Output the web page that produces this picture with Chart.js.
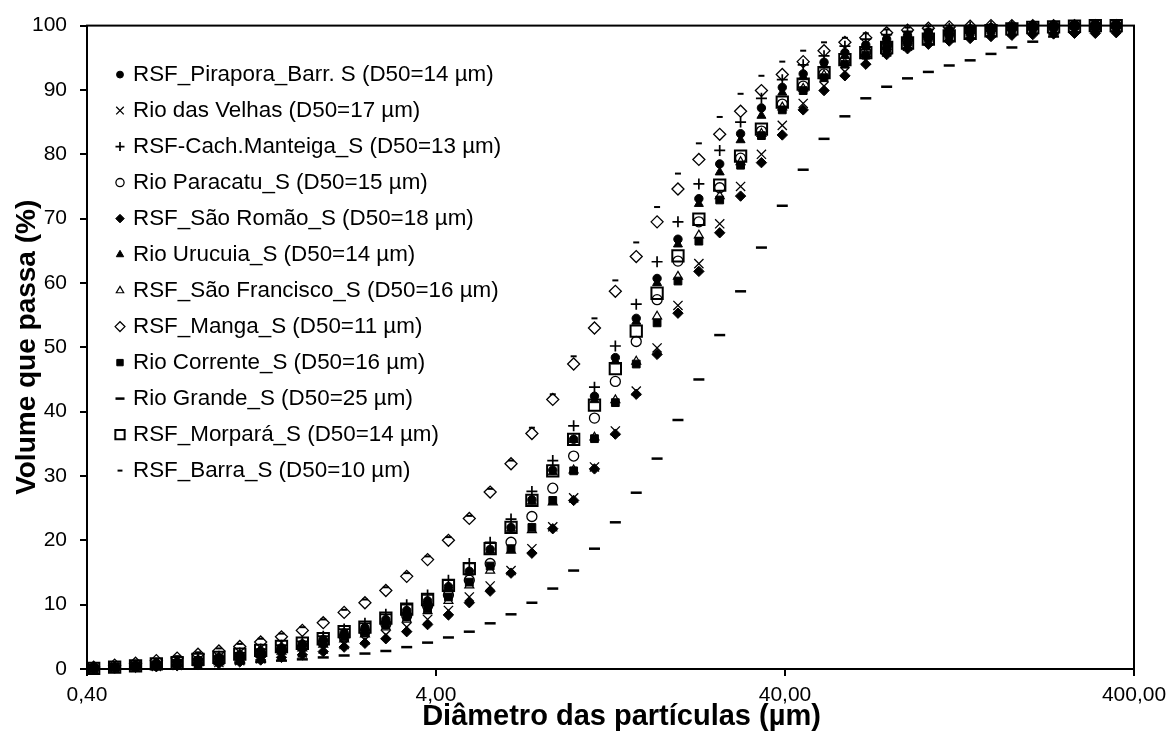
<!DOCTYPE html>
<html lang="pt">
<head>
<meta charset="utf-8">
<title>Distribuição granulométrica dos sedimentos</title>
<script src="https://cdn.jsdelivr.net/npm/chart.js@4/dist/chart.umd.min.js"></script>
<style>
  html, body { margin: 0; padding: 0; background: #ffffff; }
  #wrap { width: 1169px; height: 740px; position: relative; }
</style>
</head>
<body>
<div id="wrap"><canvas id="grafico" width="1169" height="740"></canvas></div>
<script>
// Diâmetros das classes granulométricas (µm)
const diametros = [0.418, 0.480, 0.551, 0.632, 0.725, 0.832, 0.955, 1.096, 1.258, 1.443,
  1.656, 1.901, 2.182, 2.503, 2.873, 3.297, 3.784, 4.342, 4.983, 5.718,
  6.562, 7.531, 8.642, 9.919, 11.38, 13.06, 14.99, 17.20, 19.74, 22.66,
  26.00, 29.84, 34.24, 39.29, 45.10, 51.75, 59.39, 68.16, 78.22, 89.77,
  103.0, 118.2, 135.7, 155.7, 178.7, 205.1, 235.3, 270.1, 309.9, 355.7];

// Volume acumulado que passa (%) por amostra
const pirapora = [0.1, 0.3, 0.5, 0.7, 1.0, 1.4, 1.8, 2.2, 2.8, 3.3,
  3.9, 4.6, 5.6, 6.4, 7.7, 9.1, 10.6, 12.8, 15.2, 18.6,
  22.0, 26.3, 30.9, 35.7, 42.4, 48.4, 54.5, 60.7, 66.8, 73.1,
  78.5, 83.2, 87.2, 90.4, 92.5, 94.3, 95.8, 97.0, 97.9, 98.5,
  99.0, 99.3, 99.5, 99.7, 99.8, 99.9, 100, 100, 100, 100];
const velhas = [0.1, 0.2, 0.3, 0.4, 0.55, 0.75, 1.0, 1.3, 1.6, 2.0,
  2.5, 3.1, 3.8, 4.5, 5.3, 6.5, 7.7, 9.1, 11.2, 12.9,
  15.3, 18.7, 22.1, 26.6, 31.4, 37.0, 43.2, 49.9, 56.5, 63.0,
  69.2, 75.0, 80.0, 84.5, 87.9, 90.6, 92.8, 94.6, 95.9, 96.8,
  97.6, 98.2, 98.6, 98.9, 99.1, 99.3, 99.4, 99.5, 99.6, 99.7];
const cachManteiga = [0.2, 0.4, 0.6, 0.9, 1.2, 1.6, 2.0, 2.5, 3.1, 3.7,
  4.3, 5.1, 6.2, 7.1, 8.5, 10.0, 11.5, 13.8, 16.4, 19.7,
  23.3, 27.6, 32.4, 37.8, 43.8, 50.2, 56.7, 63.3, 69.5, 75.4,
  80.6, 85.0, 88.7, 91.6, 93.9, 95.3, 96.8, 97.9, 98.6, 99.1,
  99.4, 99.6, 99.8, 99.9, 100, 100, 100, 100, 100, 100];
const paracatu = [0.1, 0.2, 0.4, 0.6, 0.9, 1.2, 1.5, 1.9, 2.4, 2.9,
  3.4, 4.1, 5.0, 5.8, 7.0, 8.3, 9.8, 11.5, 13.8, 16.4,
  19.7, 23.7, 28.1, 33.1, 39.0, 44.7, 50.9, 57.4, 63.4, 69.5,
  74.8, 79.4, 83.6, 87.8, 90.6, 92.5, 94.5, 95.9, 97.0, 97.8,
  98.4, 98.9, 99.2, 99.5, 99.7, 99.8, 99.9, 100, 100, 100];
const saoRomao = [0.1, 0.15, 0.25, 0.35, 0.5, 0.65, 0.85, 1.1, 1.4, 1.8,
  2.2, 2.7, 3.4, 4.0, 4.7, 5.8, 6.9, 8.4, 10.3, 12.1,
  14.9, 18.0, 21.8, 26.2, 31.1, 36.5, 42.7, 48.9, 55.3, 61.8,
  67.8, 73.5, 78.7, 83.0, 86.9, 89.9, 92.2, 94.0, 95.5, 96.4,
  97.1, 97.6, 98.0, 98.3, 98.5, 98.6, 98.7, 98.8, 98.8, 98.9];
const urucuia = [0.1, 0.3, 0.5, 0.7, 1.0, 1.4, 1.8, 2.2, 2.7, 3.3,
  3.9, 4.6, 5.5, 6.3, 7.6, 9.0, 10.5, 12.7, 15.0, 18.4,
  21.8, 26.0, 30.6, 35.6, 41.8, 47.8, 54.0, 60.0, 66.0, 72.3,
  77.2, 82.2, 86.0, 89.6, 92.0, 93.8, 95.3, 96.6, 97.5, 98.2,
  98.7, 99.1, 99.4, 99.6, 99.8, 99.9, 100, 100, 100, 100];
const saoFrancisco = [0.1, 0.2, 0.4, 0.6, 0.8, 1.1, 1.4, 1.8, 2.2, 2.7,
  3.2, 3.8, 4.6, 5.4, 6.5, 7.7, 9.0, 10.6, 13.0, 15.3,
  18.4, 21.6, 25.9, 30.9, 36.0, 41.8, 47.8, 54.8, 61.0, 67.4,
  73.5, 78.8, 83.2, 87.3, 90.2, 92.3, 94.2, 95.6, 96.7, 97.6,
  98.3, 98.8, 99.2, 99.5, 99.7, 99.8, 99.9, 100, 100, 100];
const manga = [0.3, 0.6, 0.9, 1.3, 1.7, 2.3, 2.8, 3.5, 4.2, 5.0,
  6.0, 7.2, 8.8, 10.3, 12.2, 14.4, 17.0, 20.0, 23.4, 27.5,
  31.9, 36.6, 41.9, 47.4, 53.0, 58.7, 64.1, 69.5, 74.6, 79.2,
  83.1, 86.7, 89.9, 92.4, 94.4, 96.1, 97.4, 98.1, 98.9, 99.3,
  99.6, 99.8, 99.9, 100, 100, 100, 100, 100, 100, 100];
const corrente = [0.1, 0.3, 0.5, 0.7, 0.9, 1.3, 1.6, 2.0, 2.5, 3.0,
  3.5, 4.1, 5.0, 5.8, 6.9, 8.1, 9.4, 11.2, 13.5, 16.0,
  18.7, 22.0, 26.2, 30.8, 35.8, 41.4, 47.4, 53.8, 60.3, 66.5,
  72.9, 78.3, 82.9, 86.9, 89.9, 91.9, 94.0, 95.4, 96.5, 97.4,
  98.1, 98.6, 99.0, 99.3, 99.5, 99.7, 99.8, 99.9, 100, 100];
const grande = [0.1, 0.15, 0.25, 0.35, 0.45, 0.6, 0.75, 0.9, 1.1, 1.3,
  1.5, 1.8, 2.1, 2.4, 2.8, 3.4, 4.1, 4.9, 5.8, 7.1,
  8.5, 10.3, 12.5, 15.3, 18.7, 22.8, 27.4, 32.7, 38.7, 45.0,
  51.9, 58.7, 65.5, 72.0, 77.6, 82.4, 85.9, 88.7, 90.5, 91.8,
  92.8, 93.8, 94.6, 95.6, 96.6, 97.5, 98.3, 98.9, 99.4, 99.8];
const morpara = [0.1, 0.3, 0.5, 0.8, 1.0, 1.5, 1.8, 2.3, 2.9, 3.5,
  4.0, 4.7, 5.8, 6.5, 7.9, 9.3, 10.8, 13.0, 15.6, 18.7,
  22.0, 26.2, 30.8, 35.7, 41.0, 46.7, 52.5, 58.4, 64.2, 69.9,
  75.2, 79.7, 83.9, 88.1, 90.9, 92.7, 94.7, 95.8, 96.6, 97.3,
  97.9, 98.4, 98.8, 99.2, 99.5, 99.7, 99.8, 99.9, 100, 100];
const barra = [0.4, 0.7, 1.0, 1.5, 2.0, 2.6, 3.2, 3.9, 4.7, 5.5,
  6.5, 7.7, 9.2, 10.8, 12.7, 14.9, 17.5, 20.5, 23.8, 28.0,
  32.4, 37.5, 42.7, 48.6, 54.5, 60.4, 66.3, 71.8, 77.0, 81.7,
  85.8, 89.4, 92.2, 94.4, 96.1, 97.4, 98.1, 98.8, 99.4, 99.7,
  99.9, 100, 100, 100, 100, 100, 100, 100, 100, 100];

// Rótulos dos eixos
const xTickValues = [0.4, 4, 40, 400];
const xTickLabels = ['0,40', '4,00', '40,00', '400,00'];
const yTickLabels = ['0', '10', '20', '30', '40', '50', '60', '70', '80', '90', '100'];
const tituloX = 'Diâmetro das partículas (µm)';
const tituloY = 'Volume que passa (%)';

const FONT = "'Liberation Sans', Arial, Helvetica, sans-serif";
const PRETO = '#000000';
const VAZIO = 'rgba(0,0,0,0)';

// Amostras: nome, valores e marcador
const amostras = [
  { nome: 'RSF_Pirapora_Barr. S (D50=14 µm)', valores: pirapora, marca: 'circle', raio: 4.2, cheio: true, traco: 1 },
  { nome: 'Rio das Velhas (D50=17 µm)', valores: velhas, marca: 'crossRot', raio: 6.5, cheio: false, traco: 1.3 },
  { nome: 'RSF-Cach.Manteiga_S (D50=13 µm)', valores: cachManteiga, marca: 'cross', raio: 5.5, cheio: false, traco: 1.7 },
  { nome: 'Rio Paracatu_S (D50=15 µm)', valores: paracatu, marca: 'circle', raio: 5, cheio: false, traco: 1.3 },
  { nome: 'RSF_São Romão_S (D50=18 µm)', valores: saoRomao, marca: 'rectRot', raio: 5.2, cheio: true, traco: 1 },
  { nome: 'Rio Urucuia_S (D50=14 µm)', valores: urucuia, marca: 'triangle', raio: 5.2, cheio: true, traco: 1 },
  { nome: 'RSF_São Francisco_S (D50=16 µm)', valores: saoFrancisco, marca: 'triangle', raio: 5.2, cheio: false, traco: 1.2 },
  { nome: 'RSF_Manga_S (D50=11 µm)', valores: manga, marca: 'rectRot', raio: 6, cheio: false, traco: 1.3 },
  { nome: 'Rio Corrente_S (D50=16 µm)', valores: corrente, marca: 'rect', raio: 5.5, cheio: true, traco: 1 },
  { nome: 'Rio Grande_S (D50=25 µm)', valores: grande, marca: 'line', raio: 5.5, cheio: false, traco: 2.5 },
  { nome: 'RSF_Morpará_S (D50=14 µm)', valores: morpara, marca: 'rect', raio: 8, cheio: false, traco: 2 },
  { nome: 'RSF_Barra_S (D50=10 µm)', valores: barra, marca: 'line', raio: 3, cheio: false, traco: 2 }
];

const datasets = amostras.map(a => ({
  label: a.nome,
  data: diametros.map((d, i) => ({ x: d, y: a.valores[i] })),
  showLine: false,
  pointStyle: a.marca,
  pointRadius: a.raio,
  pointHoverRadius: a.raio,
  pointBackgroundColor: a.cheio ? PRETO : VAZIO,
  pointBorderColor: PRETO,
  pointBorderWidth: a.traco,
  backgroundColor: a.cheio ? PRETO : VAZIO,
  borderColor: PRETO,
  borderWidth: a.traco,
  clip: false
}));

// Moldura completa da área de plotagem e título do eixo horizontal
const moldura = {
  id: 'moldura',
  afterDraw(chart) {
    const { ctx, chartArea: a } = chart;
    ctx.save();
    ctx.strokeStyle = PRETO;
    ctx.lineWidth = 2;
    ctx.strokeRect(a.left, a.top, a.right - a.left, a.bottom - a.top);
    ctx.font = 'bold 29px ' + FONT;
    ctx.fillStyle = PRETO;
    ctx.textAlign = 'center';
    ctx.textBaseline = 'middle';
    ctx.fillText(tituloX, (a.left + a.right) / 2 + 11, 717);
    ctx.restore();
  }
};

// Legenda em coluna dentro da área de plotagem
const legendaInterna = {
  id: 'legendaInterna',
  afterDatasetsDraw(chart) {
    const { ctx, chartArea: a } = chart;
    ctx.save();
    ctx.font = '22.4px ' + FONT;
    ctx.textBaseline = 'middle';
    ctx.textAlign = 'left';
    chart.data.datasets.forEach((ds, i) => {
      const cx = a.left + 33;
      const cy = a.top + 49 + i * 36.0;
      ctx.fillStyle = ds.pointBackgroundColor;
      ctx.strokeStyle = ds.pointBorderColor;
      ctx.lineWidth = ds.pointBorderWidth;
      Chart.helpers.drawPoint(ctx, {
        pointStyle: ds.pointStyle,
        radius: ds.pointRadius * 0.82,
        rotation: 0,
        borderWidth: ds.pointBorderWidth
      }, cx, cy);
      ctx.fillStyle = PRETO;
      ctx.fillText(ds.label, cx + 13, cy);
    });
    ctx.restore();
  }
};

new Chart(document.getElementById('grafico'), {
  type: 'scatter',
  data: { datasets },
  plugins: [legendaInterna, moldura],
  options: {
    responsive: false,
    animation: false,
    devicePixelRatio: 1,
    events: [],
    layout: { padding: { left: 0, right: 35, top: 23, bottom: 0 } },
    plugins: {
      legend: { display: false },
      tooltip: { enabled: false },
      title: { display: false }
    },
    scales: {
      x: {
        type: 'logarithmic',
        min: 0.4,
        max: 400,
        afterBuildTicks: s => { s.ticks = xTickValues.map(v => ({ value: v })); },
        afterFit: s => { s.height = 71; s.paddingLeft = 0; s.paddingRight = 0; },
        ticks: {
          autoSkip: false,
          maxRotation: 0,
          padding: 7,
          color: PRETO,
          font: { family: FONT, size: 21 },
          callback: (v, i) => xTickLabels[i]
        },
        grid: { drawOnChartArea: false, drawTicks: true, tickLength: 7, color: PRETO, lineWidth: 2 },
        border: { display: true, color: PRETO, width: 2 },
        title: { display: false }
      },
      y: {
        min: 0,
        max: 100,
        afterFit: s => { s.width = 87; },
        ticks: {
          stepSize: 10,
          padding: 13,
          color: PRETO,
          font: { family: FONT, size: 21 },
          callback: (v, i) => yTickLabels[i]
        },
        grid: { drawOnChartArea: false, drawTicks: true, tickLength: 7, color: PRETO, lineWidth: 2 },
        border: { display: true, color: PRETO, width: 2 },
        title: {
          display: true,
          text: tituloY,
          color: PRETO,
          font: { family: FONT, size: 28, weight: 'bold' },
          padding: { top: 10, bottom: 0 }
        }
      }
    }
  }
});
</script>
</body>
</html>
